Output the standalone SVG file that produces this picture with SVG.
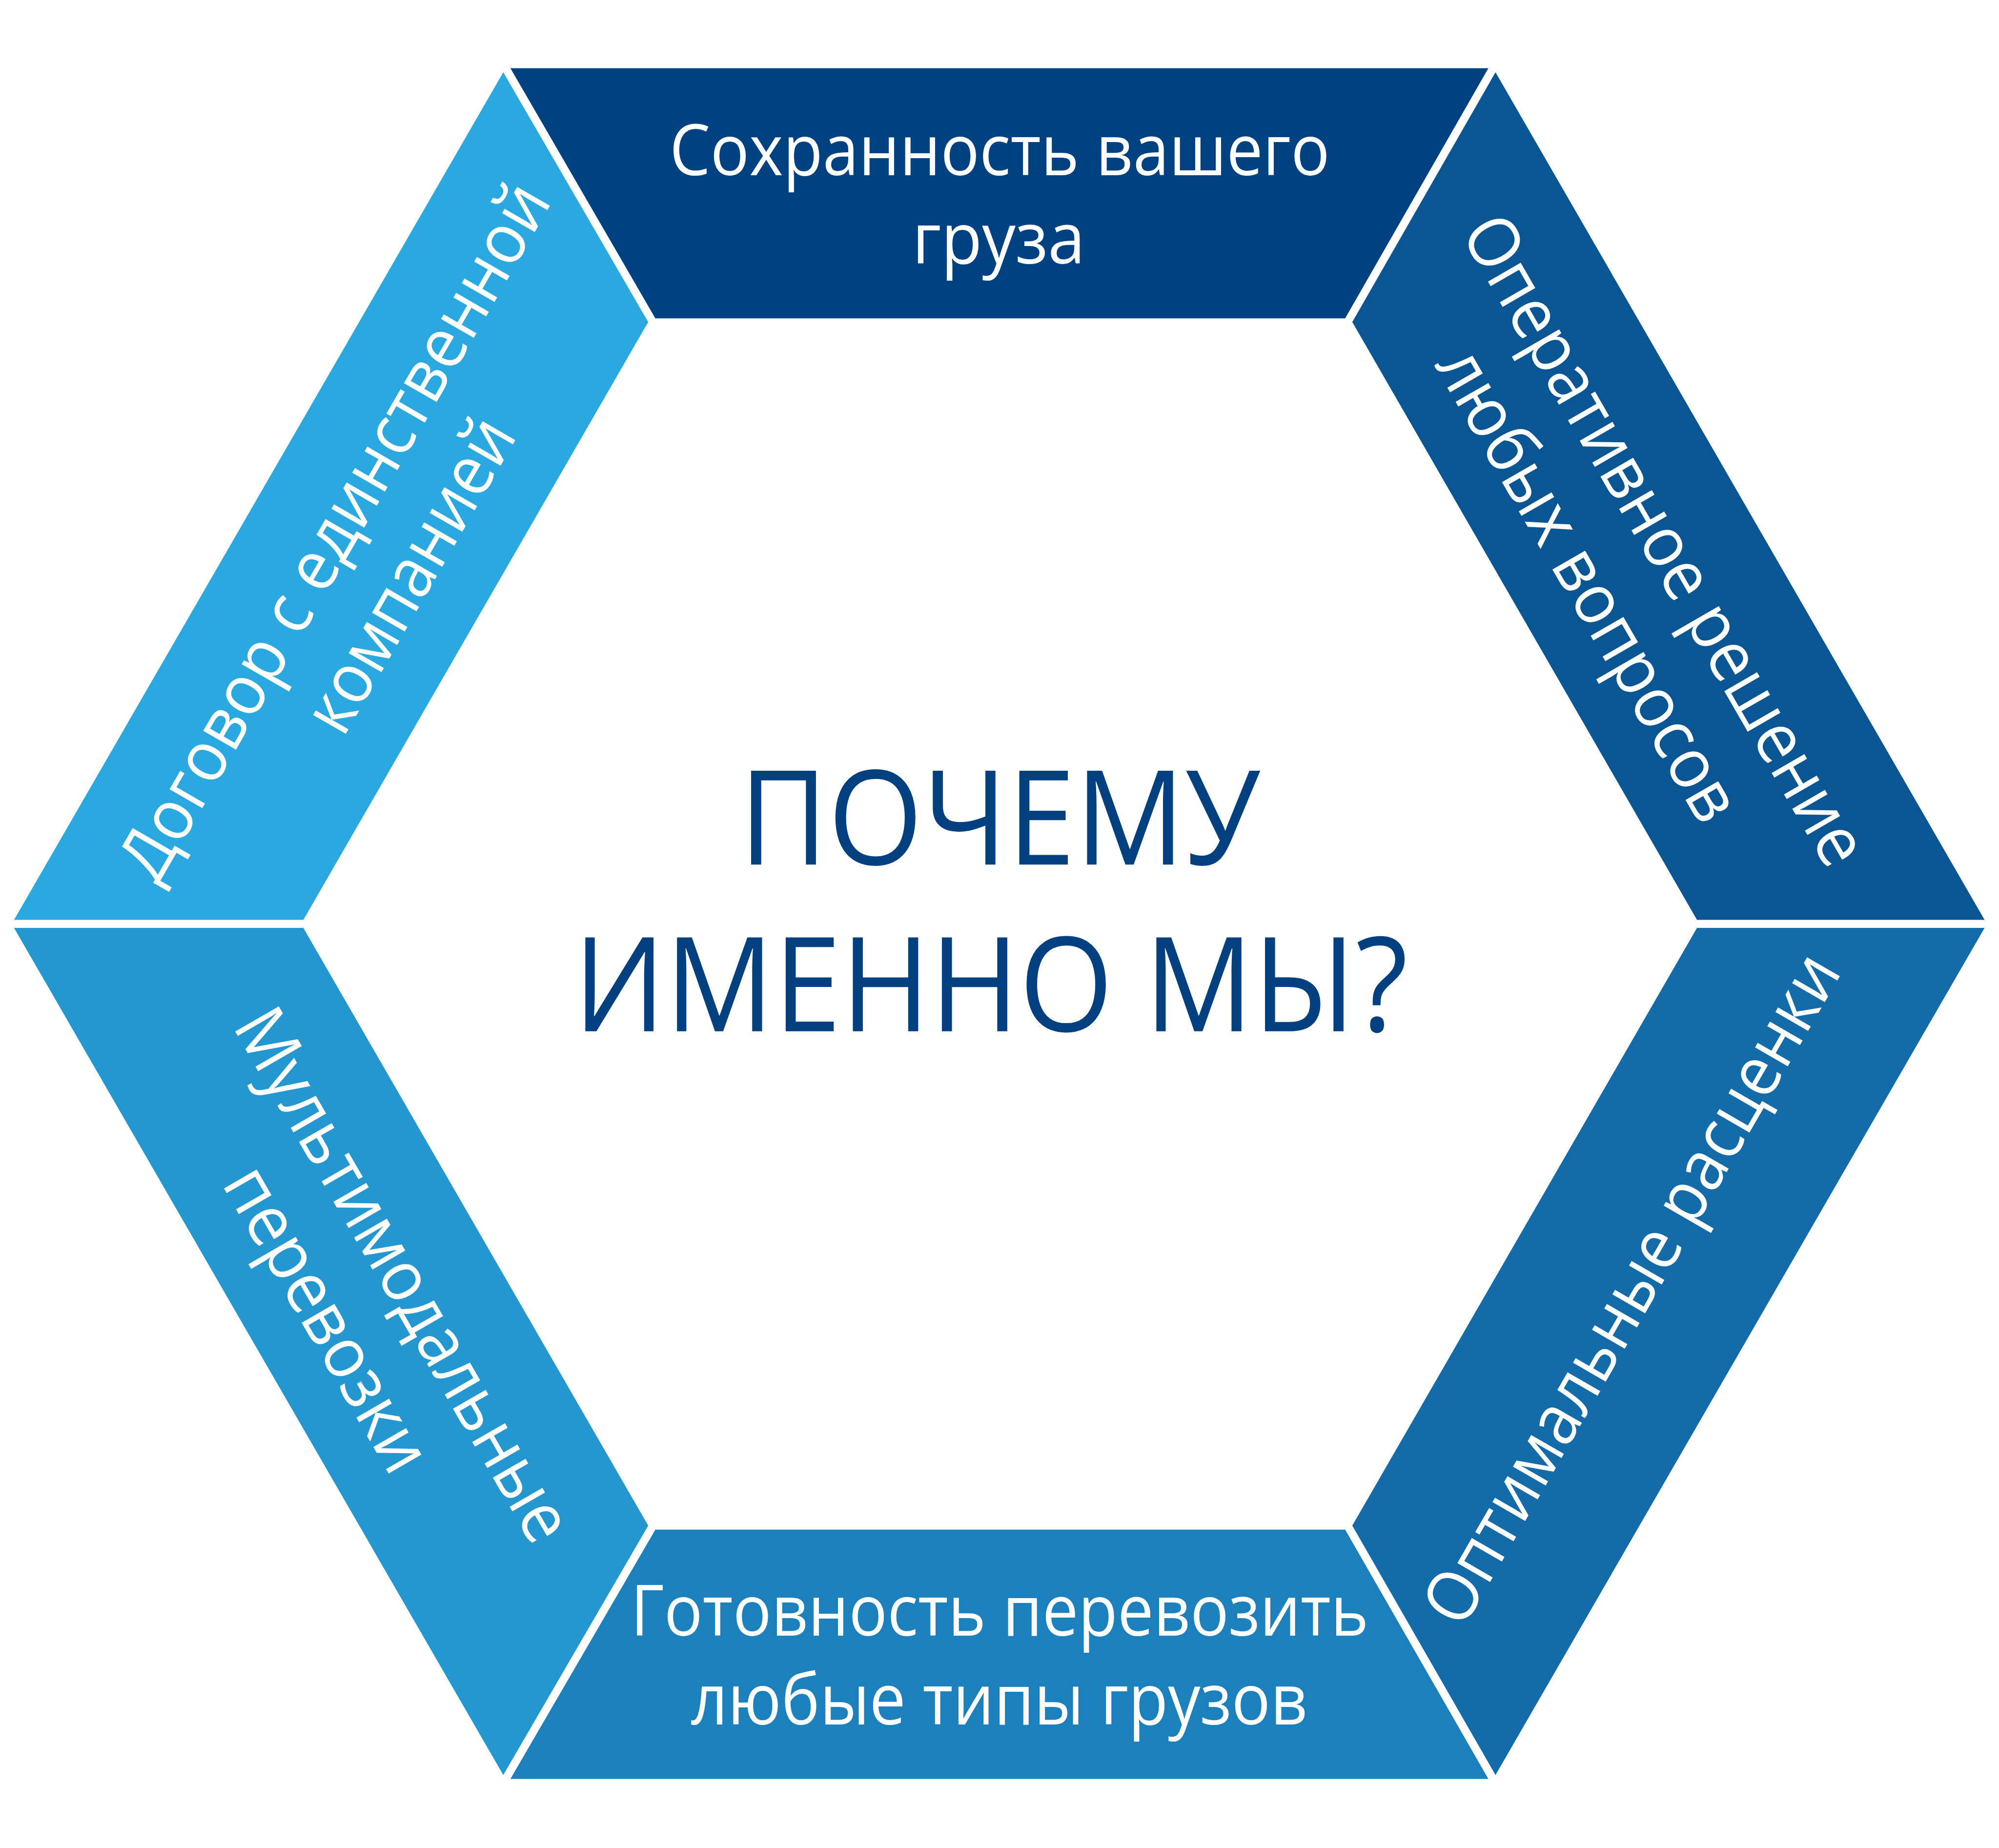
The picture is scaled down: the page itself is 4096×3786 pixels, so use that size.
<svg xmlns="http://www.w3.org/2000/svg" width="4096" height="3786" viewBox="0 0 4096 3786">
<style>
.lbl{font-family:"Open Sans","Noto Sans","DejaVu Sans",sans-serif;font-size:148px;fill:#ffffff;text-anchor:middle}
.title{font-family:"Open Sans","Noto Sans","DejaVu Sans",sans-serif;font-size:276px;fill:#02407f;text-anchor:middle}
</style>
<rect x="0" y="0" width="4096" height="3786" fill="#ffffff"/>
<g transform="scale(0.9759)">
  <g id="seg-top">
    <polygon fill="#004182" points="1071.7,143.2 3125,143.2 2824.3,668.3 1376,668.3"/>
    <text class="lbl" x="2099" y="368" textLength="1386" lengthAdjust="spacingAndGlyphs">Сохранность вашего</text>
    <text class="lbl" x="2097" y="553" textLength="363" lengthAdjust="spacingAndGlyphs">груза</text>
  </g>
  <g id="seg-top-right">
    <polygon fill="#0a5694" points="3140,151.7 4166.8,1931 3563,1931 2839.3,676"/>
    <text class="lbl" transform="translate(3452.1,1159.2) rotate(60)" x="0" y="0" textLength="1548" lengthAdjust="spacingAndGlyphs">Оперативное решение</text>
    <text class="lbl" transform="translate(3291.9,1251.7) rotate(60)" x="0" y="0" textLength="1122" lengthAdjust="spacingAndGlyphs">любых вопросов</text>
  </g>
  <g id="seg-bottom-right">
    <polygon fill="#136ba9" points="3563,1948 4166.8,1948 3140,3726.3 2839.3,3202.7"/>
    <text class="lbl" transform="translate(3469.4,2730.6) rotate(-60)" x="0" y="0" textLength="1597" lengthAdjust="spacingAndGlyphs">Оптимальные расценки</text>
  </g>
  <g id="seg-bottom">
    <polygon fill="#1b80bb" points="1376,3211.2 2824.3,3211.2 3125,3734.4 1071.7,3734.4"/>
    <text class="lbl" x="2099" y="3434" textLength="1549" lengthAdjust="spacingAndGlyphs">Готовность перевозить</text>
    <text class="lbl" x="2098" y="3620" textLength="1295" lengthAdjust="spacingAndGlyphs">любые типы грузов</text>
  </g>
  <g id="seg-bottom-left">
    <polygon fill="#2497d0" points="29.5,1948 637,1948 1361,3202.7 1056.7,3726.3"/>
    <text class="lbl" transform="translate(803.5,2701.6) rotate(60)" x="0" y="0" textLength="1265" lengthAdjust="spacingAndGlyphs">Мультимодальные</text>
    <text class="lbl" transform="translate(643.3,2794.1) rotate(60)" x="0" y="0" textLength="715" lengthAdjust="spacingAndGlyphs">перевозки</text>
  </g>
  <g id="seg-top-left">
    <polygon fill="#2aa9e1" points="1056.7,151.7 1361,676 637,1931 29.5,1931"/>
    <text class="lbl" transform="translate(745.6,1140.6) rotate(-60)" x="0" y="0" textLength="1660" lengthAdjust="spacingAndGlyphs">Договор с единственной</text>
    <text class="lbl" transform="translate(904,1232.1) rotate(-60)" x="0" y="0" textLength="735" lengthAdjust="spacingAndGlyphs">компанией</text>
  </g>
  <g id="center-title">
    <text class="title" x="2099" y="1815" textLength="1094" lengthAdjust="spacingAndGlyphs">ПОЧЕМУ</text>
    <text class="title" x="2080" y="2165" textLength="1752" lengthAdjust="spacingAndGlyphs">ИМЕННО МЫ?</text>
  </g>
  <g id="connectors"/>
</g>
</svg>
